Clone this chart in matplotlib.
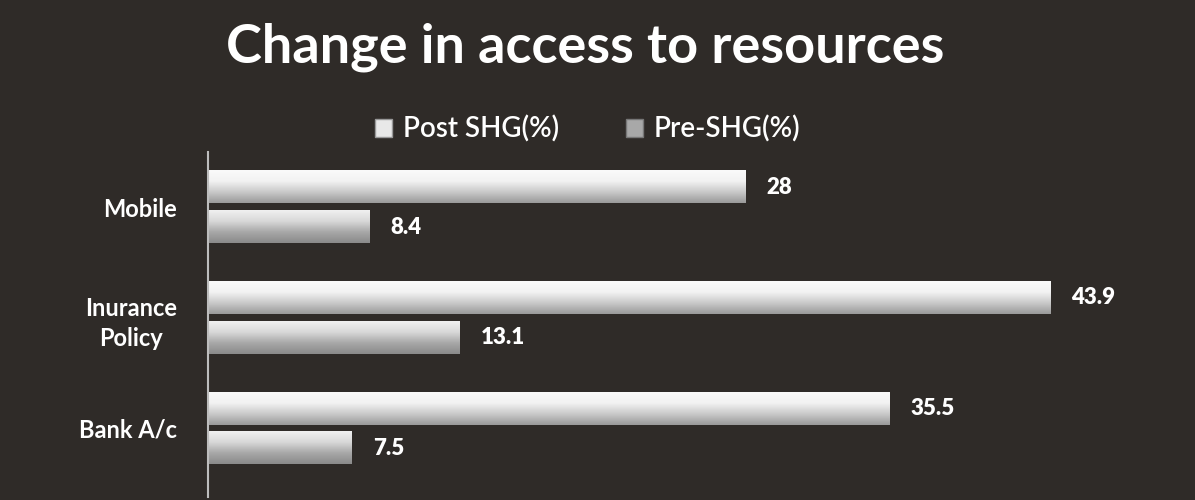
import numpy as np
import matplotlib.pyplot as plt
from matplotlib.colors import LinearSegmentedColormap
from matplotlib.patches import Patch

# --- dados ---
categorias = ['Mobile', 'Inurance\nPolicy', 'Bank A/c']
post_shg = [28, 43.9, 35.5]
pre_shg = [8.4, 13.1, 7.5]
series = ['Post SHG(%)', 'Pre-SHG(%)']

fundo = '#2f2b28'
plt.rcParams['font.family'] = ['Lato', 'DejaVu Sans']

fig = plt.figure(figsize=(11.95, 5), dpi=100, facecolor=fundo)
ax = fig.add_axes([0.174, 0.006, 0.803, 0.69], facecolor=fundo)

y = np.arange(len(categorias))
h = 0.29
desloc = 0.18

# gradiente vertical das barras (branco em cima, cinza embaixo)
grad = np.linspace(0, 1, 64).reshape(-1, 1)
cmap_post = LinearSegmentedColormap.from_list(
    'post', ['#fafafa', '#f2f2f2', '#c9c9c9', '#9a9a9a'])
cmap_pre = LinearSegmentedColormap.from_list(
    'pre', ['#f0f0f0', '#d8d8d8', '#a8a8a8', '#8a8a8a'])

for vals, off, cmap in [(post_shg, -desloc, cmap_post), (pre_shg, desloc, cmap_pre)]:
    barras = ax.barh(y + off, vals, height=h, color='none')
    for b, v in zip(barras, vals):
        y0, y1 = b.get_y(), b.get_y() + b.get_height()
        ax.imshow(grad, cmap=cmap, aspect='auto', extent=(0, v, y1, y0),
                  zorder=2, interpolation='bicubic')
        ax.text(v + 1.1, b.get_y() + b.get_height() / 2, f'{v:g}', color='white',
                fontsize=16, fontweight='heavy', va='center', ha='left')

ax.set_xlim(0, 50)
ax.set_ylim(2.62, -0.5)
ax.set_yticks(y)
ax.set_yticklabels(categorias, color='white', fontsize=17, fontweight='bold',
                   ha='right', multialignment='center', linespacing=1.4)
ax.tick_params(axis='y', length=0, pad=22)
ax.set_xticks([])
for lado in ['top', 'right', 'bottom']:
    ax.spines[lado].set_visible(False)
ax.spines['left'].set_color('#bdbdbd')
ax.spines['left'].set_linewidth(1.5)

# legenda
handles = [Patch(facecolor='#e8e8e8', edgecolor='#999999'),
           Patch(facecolor='#a8a8a8', edgecolor='#777777')]
fig.legend(handles, series, loc='center', bbox_to_anchor=(0.492, 0.742), ncol=2,
           frameon=False, labelcolor='white', handlelength=0.6,
           handleheight=0.6, handletextpad=0.4, columnspacing=2.4,
           prop={'size': 20, 'weight': 'semibold'})

fig.text(0.49, 0.905, 'Change in access to resources', color='white',
         fontsize=39, fontweight='bold', ha='center', va='center')

fig.savefig('out.png', dpi=100, facecolor=fundo)
